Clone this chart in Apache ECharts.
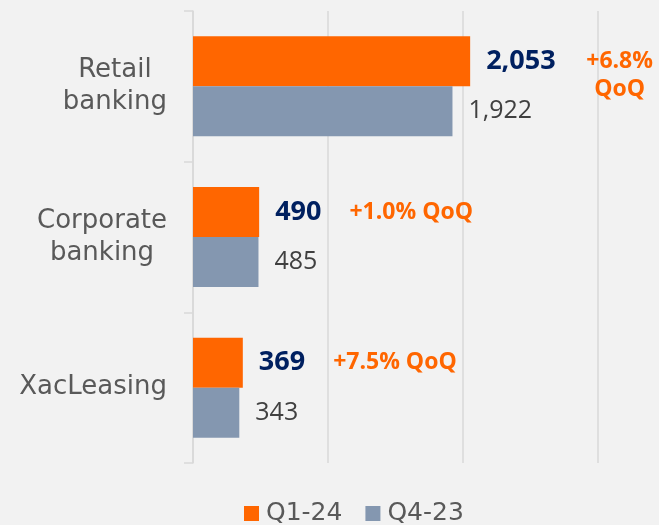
<!DOCTYPE html>
<html>
<head>
<meta charset="utf-8">
<script src="https://cdn.jsdelivr.net/npm/echarts@6/dist/echarts.min.js"></script>
<style>
  html, body { margin: 0; padding: 0; background: #f2f2f2; }
  #main { width: 659px; height: 525px; }
</style>
</head>
<body>
<div id="main"></div>
<script>
  // data
  const categories = ['Retail\nbanking', 'Corporate\nbanking', 'XacLeasing'];
  const seriesNames = ['Q1-24', 'Q4-23'];
  const q1Values = [2053, 490, 369];
  const q4Values = [1922, 485, 343];
  const qoqLabels = ['+6.8%', '+1.0%', '+7.5%'];
  const axisMax = 3000;

  const font = '"Open Sans", "Noto Sans", sans-serif';
  const wideFont = '"DejaVu Sans", sans-serif';
  const fmt = v => v.toLocaleString('en-US');

  let chart = echarts.init(document.getElementById('main'));

  let q1Data = q1Values.map((v, i) => {
    let item = { value: v };
    // not enough room on the right of the big bar -> QoQ goes on two lines
    if (v > axisMax * 0.6) {
      item.label = { offset: [0, 14] };
    }
    return item;
  });

  let option = {
    backgroundColor: '#f2f2f2',
    animation: false,
    textStyle: { fontFamily: font },
    legend: {
      data: seriesNames,
      left: 244,
      top: 500,
      padding: 0,
      icon: 'rect',
      itemWidth: 15,
      itemHeight: 15,
      itemGap: 23,
      textStyle: { fontSize: 25, lineHeight: 27, color: '#595959', fontFamily: wideFont, padding: [0, 0, 0, 2] }
    },
    grid: {
      left: 193,
      right: 61,
      top: 11,
      bottom: 62
    },
    xAxis: {
      type: 'value',
      min: 0,
      max: axisMax,
      interval: 1000,
      axisLabel: { show: false },
      axisLine: { show: false },
      axisTick: { show: false },
      splitLine: { show: true, lineStyle: { color: '#d9d9d9', width: 1.5 } }
    },
    yAxis: {
      type: 'category',
      inverse: true,
      data: categories,
      axisLine: { show: true, lineStyle: { color: '#d9d9d9', width: 1.5 } },
      axisTick: { show: true, length: 9, lineStyle: { color: '#d9d9d9', width: 1.5 } },
      axisLabel: {
        margin: 26,
        formatter: v => v.split('\n').map(s => '{c|' + s + '}').join('\n'),
        rich: {
          c: { fontSize: 26, lineHeight: 32, color: '#595959', align: 'center', fontFamily: wideFont }
        }
      }
    },
    series: [
      {
        name: seriesNames[0],
        type: 'bar',
        barWidth: 50,
        barGap: '0%',
        itemStyle: { color: '#ff6600' },
        data: q1Data,
        label: {
          show: true,
          position: 'right',
          distance: 16,
          formatter: p => {
            let v = fmt(p.value);
            let q = qoqLabels[p.dataIndex];
            if (p.value > axisMax * 0.6) {
              return '{v|' + v + '}{s|}{qc|' + q + '}\n{vh|' + v + '}{s|}{qc|QoQ}';
            }
            return '{v|' + v + '}{s|}{q|' + q + ' QoQ}';
          },
          rich: {
            v: { fontSize: 27, fontWeight: 'bold', color: '#002060', lineHeight: 28, fontFamily: font },
            vh: { fontSize: 27, fontWeight: 'bold', color: 'transparent', lineHeight: 28, fontFamily: font },
            s: { width: 28 },
            q: { fontSize: 23, fontWeight: 'bold', color: '#ff6600', lineHeight: 28, fontFamily: font },
            qc: { fontSize: 23, fontWeight: 'bold', color: '#ff6600', lineHeight: 28, width: 72, align: 'center', fontFamily: font }
          }
        }
      },
      {
        name: seriesNames[1],
        type: 'bar',
        barWidth: 50,
        barGap: '0%',
        itemStyle: { color: '#8497b0' },
        data: q4Values,
        label: {
          show: true,
          position: 'right',
          distance: 16,
          fontSize: 25,
          color: '#404040',
          fontFamily: font,
          formatter: p => fmt(p.value)
        }
      }
    ]
  };

  chart.setOption(option);
</script>
</body>
</html>
